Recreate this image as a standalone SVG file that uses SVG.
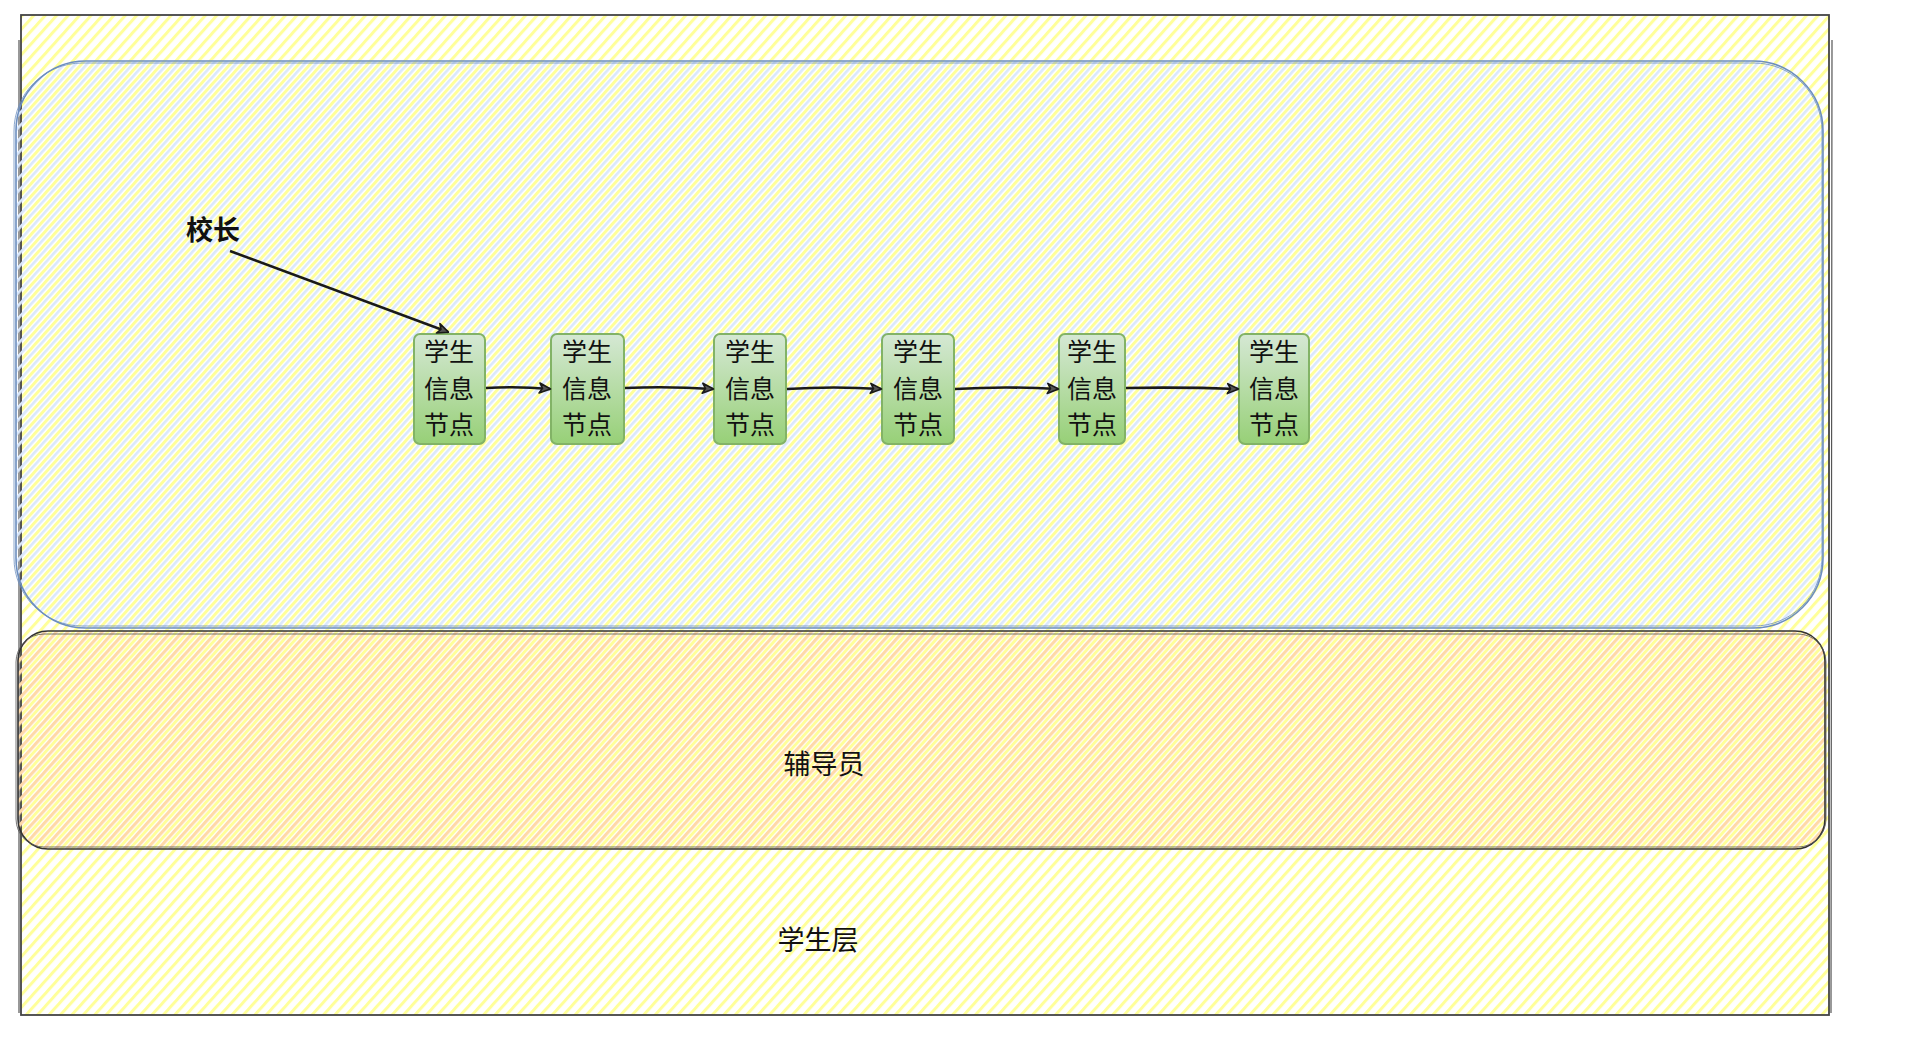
<svg xmlns="http://www.w3.org/2000/svg" width="1908" height="1039" viewBox="0 0 1908 1039">
<defs>
<style>
.t{font-family:"Noto Sans CJK SC","Noto Sans",sans-serif;fill:#111;}
.nt{font-size:25px;text-anchor:middle;}
.conn{fill:none;stroke:#1a1a1a;stroke-width:2.6;marker-end:url(#arr);}
.node{stroke:#82b366;stroke-width:2;}
</style>
<pattern id="hy" patternUnits="userSpaceOnUse" width="8.5" height="8.5" patternTransform="rotate(42)">
<rect width="8.5" height="8.5" fill="#ffffff"/>
<rect x="0" y="0" width="3" height="8.5" fill="#ffff99"/>
</pattern>
<pattern id="hb" patternUnits="userSpaceOnUse" width="8.5" height="8.5" patternTransform="rotate(42) translate(4.2 0)">
<rect x="0" y="0" width="2.6" height="8.5" fill="#dae8fc"/>
</pattern>
<pattern id="ho" patternUnits="userSpaceOnUse" width="8.5" height="8.5" patternTransform="rotate(42) translate(4.2 0)">
<rect x="0" y="0" width="3.2" height="8.5" fill="#ffd9a8"/>
</pattern>
<linearGradient id="gg" x1="0" y1="0" x2="0" y2="1">
<stop offset="0" stop-color="#d5e8d4"/>
<stop offset="1" stop-color="#97d077"/>
</linearGradient>
<marker id="arr" viewBox="0 0 14 14" refX="12" refY="7" markerWidth="14" markerHeight="14" markerUnits="userSpaceOnUse" orient="auto">
<path d="M1.5,2 L12.5,7 L1.5,12 L4.5,7 Z" fill="#555" stroke="#1a1a1a" stroke-width="1.6" stroke-linejoin="round"/>
</marker>
</defs>

<g id="student-layer">
<rect x="21" y="15" width="1808" height="1000" fill="url(#hy)" stroke="#444" stroke-width="1.8"/>
<path d="M19,40 L19,1013 M1832,40 L1831,1013" fill="none" stroke="#555" stroke-width="1.2"/>
<text class="t" x="818" y="938" font-size="27" text-anchor="middle" dominant-baseline="central">学生层</text>
</g>

<g id="principal-layer">
<rect x="16" y="61" width="1807" height="567" rx="70" ry="70" fill="url(#hb)" stroke="#6c8ebf" stroke-width="1.6"/>
<rect x="14" y="63" width="1808" height="563" rx="68" ry="68" fill="none" stroke="#6c8ebf" stroke-width="1" opacity="0.8"/>
</g>

<g id="counselor-layer">
<rect x="18" y="631" width="1807" height="218" rx="30" ry="30" fill="url(#ho)" stroke="#333" stroke-width="1.6"/>
<rect x="16" y="634" width="1810" height="213" rx="28" ry="28" fill="none" stroke="#555" stroke-width="1" opacity="0.8"/>
<text class="t" x="824" y="762" font-size="27" text-anchor="middle" dominant-baseline="central">辅导员</text>
</g>

<g id="principal-label">
<text class="t" x="213" y="228" font-size="27" font-weight="bold" text-anchor="middle" dominant-baseline="central">校长</text>
</g>

<g id="node1">
<rect class="node" x="414" y="334" width="71" height="110" rx="6" fill="url(#gg)"/>
<text class="t nt" x="449" y="361"><tspan x="449">学生</tspan><tspan x="449" dy="36.5">信息</tspan><tspan x="449" dy="36.5">节点</tspan></text>
</g>
<g id="node2">
<rect class="node" x="551" y="334" width="73" height="110" rx="6" fill="url(#gg)"/>
<text class="t nt" x="587" y="361"><tspan x="587">学生</tspan><tspan x="587" dy="36.5">信息</tspan><tspan x="587" dy="36.5">节点</tspan></text>
</g>
<g id="node3">
<rect class="node" x="714" y="334" width="72" height="110" rx="6" fill="url(#gg)"/>
<text class="t nt" x="750" y="361"><tspan x="750">学生</tspan><tspan x="750" dy="36.5">信息</tspan><tspan x="750" dy="36.5">节点</tspan></text>
</g>
<g id="node4">
<rect class="node" x="882" y="334" width="72" height="110" rx="6" fill="url(#gg)"/>
<text class="t nt" x="918" y="361"><tspan x="918">学生</tspan><tspan x="918" dy="36.5">信息</tspan><tspan x="918" dy="36.5">节点</tspan></text>
</g>
<g id="node5">
<rect class="node" x="1059" y="334" width="66" height="110" rx="6" fill="url(#gg)"/>
<text class="t nt" x="1092" y="361"><tspan x="1092">学生</tspan><tspan x="1092" dy="36.5">信息</tspan><tspan x="1092" dy="36.5">节点</tspan></text>
</g>
<g id="node6">
<rect class="node" x="1239" y="334" width="70" height="110" rx="6" fill="url(#gg)"/>
<text class="t nt" x="1274" y="361"><tspan x="1274">学生</tspan><tspan x="1274" dy="36.5">信息</tspan><tspan x="1274" dy="36.5">节点</tspan></text>
</g>

<g id="connectors">
<path class="conn" d="M230,251 L448,332"/>
<path class="conn" d="M486,388 Q518,386 550,389"/>
<path class="conn" d="M625,388 Q668,386 713,389"/>
<path class="conn" d="M787,389 Q834,386 881,389"/>
<path class="conn" d="M955,389 Q1006,386 1058,389"/>
<path class="conn" d="M1126,388 Q1182,387 1238,389"/>
</g>
</svg>
